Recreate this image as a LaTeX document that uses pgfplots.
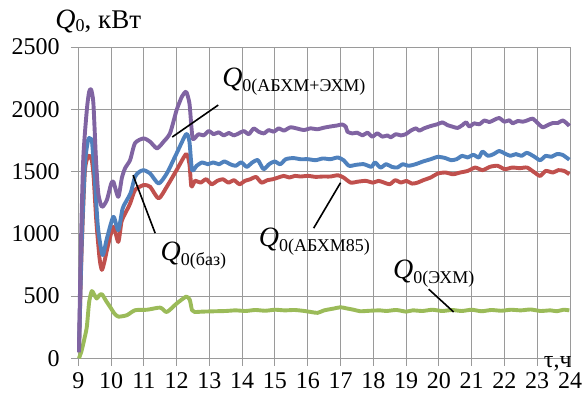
\documentclass[border=0pt]{standalone}
\usepackage{pgfplots}
\pgfplotsset{compat=1.18}
\usepackage{fontspec}
\setmainfont{Liberation Serif}
\definecolor{cpur}{HTML}{8064A2}
\definecolor{cblu}{HTML}{4F81BD}
\definecolor{cred}{HTML}{C0504D}
\definecolor{cgrn}{HTML}{9BBB59}
\definecolor{cgrid}{HTML}{9A9A9A}
\newcommand{\lab}[1]{{\fontsize{14}{16}\selectfont\textit{Q}}\raisebox{-2.5pt}{\fontsize{9}{10}\selectfont #1}}
\begin{document}
\begin{tikzpicture}
\path[use as bounding box] (-39.15pt,-19.85pt) rectangle (252.35pt,179.15pt);
\begin{axis}[
  at={(0,0)}, anchor=south west,
  width=245.85pt, height=155.65pt, scale only axis,
  xmin=9, xmax=24, ymin=0, ymax=2500,
  xtick={9,10,...,24}, ytick={0,500,...,2500},
  grid=major,
  grid style={cgrid, line width=0.5pt},
  axis line style={cgrid, line width=0.5pt},
  tick style={cgrid, line width=0.5pt},
  tick align=outside,
  major tick length=3.75pt,
  xtick pos=bottom, ytick pos=left,
  tick label style={font=\fontsize{12}{14}\selectfont, /pgf/number format/assume math mode=true},
  /pgf/number format/1000 sep={},
  yticklabel style={xshift=-2pt},
  clip=false,
  every axis plot/.append style={line width=1.95pt, smooth, tension=0.4, line join=round, no markers},
]
\addplot[cgrn] coordinates {
(9.02,0)(9.1,60)(9.18,150)(9.26,252)(9.33,450)(9.41,540)(9.48,515)(9.56,480)(9.64,505)(9.72,515)(9.85,460)(9.97,413)(10.1,360)(10.22,335)(10.48,346)(10.73,386)(11.1,390)(11.5,407)(11.7,372)(12.0,440)(12.29,495)(12.4,470)(12.47,386)(12.55,372)
(12.8,375)(13.2,378)(13.5,380)(13.8,385)(14.1,380)(14.4,388)(14.7,382)(15.0,390)(15.3,385)(15.6,388)(15.9,380)(16.1,372)(16.3,365)(16.5,385)(16.8,400)(17.0,410)(17.2,400)(17.4,390)(17.6,378)(17.9,382)(18.2,385)(18.4,380)(18.7,388)(19.0,375)(19.2,385)(19.5,380)(19.8,390)(20.1,380)(20.4,388)(20.7,380)(21.0,390)(21.3,378)(21.6,388)(21.9,382)(22.2,390)(22.5,385)(22.8,392)(23.1,380)(23.4,385)(23.6,378)(23.8,390)(23.98,385)
};
\addplot[cred] coordinates {
(9.02,50)(9.1,850)(9.2,1500)(9.31,1625)(9.41,1592)(9.47,1450)(9.55,1100)(9.65,800)(9.72,710)(9.8,780)(9.9,900)(10.07,1056)(10.22,935)(10.32,1100)(10.43,1163)(10.58,1243)(10.73,1351)(10.99,1391)(11.19,1378)(11.45,1284)(11.7,1378)(12.0,1512)(12.29,1640)(12.39,1560)(12.45,1380)
(12.56,1425)(12.73,1411)(12.9,1438)(13.07,1398)(13.24,1425)(13.41,1438)(13.58,1411)(13.75,1430)(13.92,1398)(14.08,1425)(14.25,1438)(14.42,1457)(14.59,1411)(14.76,1430)(14.93,1438)(15.1,1452)(15.27,1465)(15.44,1452)(15.61,1465)(15.78,1460)(16.01,1465)(16.24,1457)(16.46,1460)(16.69,1460)(16.92,1470)(17.09,1452)(17.31,1411)(17.54,1419)(17.77,1425)(17.99,1411)(18.16,1425)(18.33,1411)(18.5,1398)(18.67,1430)(18.84,1411)(19.01,1425)(19.18,1403)(19.35,1411)(19.52,1430)(19.75,1452)(19.97,1484)(20.2,1492)(20.43,1478)(20.65,1492)(20.88,1505)(21.11,1532)(21.33,1511)(21.56,1538)(21.79,1546)(22.01,1519)(22.24,1532)(22.47,1527)(22.69,1532)(22.92,1492)(23.09,1465)(23.26,1505)(23.48,1492)(23.64,1511)(23.82,1505)(23.98,1478)
};
\addplot[cblu] coordinates {
(9.02,50)(9.1,900)(9.2,1550)(9.3,1755)(9.36,1765)(9.42,1735)(9.5,1450)(9.6,1050)(9.74,830)(9.87,960)(10.07,1136)(10.22,1029)(10.35,1200)(10.48,1270)(10.6,1330)(10.73,1458)(10.85,1495)(10.99,1511)(11.19,1485)(11.45,1404)(11.7,1485)(12.0,1646)(12.29,1800)(12.39,1740)(12.47,1512)
(12.61,1546)(12.78,1573)(12.95,1559)(13.12,1573)(13.29,1559)(13.46,1581)(13.63,1559)(13.8,1546)(13.97,1573)(14.14,1538)(14.31,1573)(14.48,1591)(14.65,1519)(14.82,1559)(14.99,1581)(15.16,1559)(15.33,1599)(15.56,1608)(15.78,1599)(16.01,1599)(16.24,1591)(16.46,1605)(16.69,1599)(16.92,1613)(17.09,1591)(17.26,1546)(17.48,1554)(17.71,1559)(17.94,1538)(18.05,1573)(18.22,1532)(18.39,1559)(18.56,1538)(18.73,1532)(18.9,1559)(19.07,1546)(19.29,1559)(19.52,1581)(19.75,1599)(19.97,1618)(20.2,1608)(20.37,1591)(20.54,1599)(20.71,1626)(20.88,1613)(21.05,1634)(21.22,1613)(21.33,1660)(21.5,1626)(21.67,1640)(21.84,1665)(22.01,1645)(22.18,1626)(22.35,1640)(22.52,1626)(22.69,1650)(22.92,1618)(23.09,1591)(23.26,1626)(23.43,1618)(23.6,1640)(23.77,1634)(23.98,1595)
};
\addplot[cpur] coordinates {
(9.02,50)(9.07,788)(9.15,1594)(9.26,1994)(9.33,2140)(9.39,2160)(9.46,2048)(9.54,1594)(9.61,1324)(9.72,1217)(9.87,1270)(10.0,1400)(10.07,1418)(10.22,1297)(10.33,1450)(10.43,1528)(10.58,1592)(10.73,1728)(10.99,1766)(11.19,1739)(11.4,1686)(11.6,1739)(11.8,1809)(12.0,1994)(12.16,2101)(12.29,2140)(12.39,2048)(12.45,1860)(12.5,1760)
(12.67,1800)(12.82,1790)(12.98,1825)(13.13,1800)(13.28,1815)(13.44,1790)(13.59,1810)(13.74,1790)(13.89,1806)(14.05,1825)(14.2,1800)(14.35,1845)(14.5,1820)(14.66,1806)(14.81,1833)(14.96,1820)(15.12,1847)(15.27,1828)(15.47,1855)(15.68,1845)(15.88,1833)(16.09,1847)(16.29,1839)(16.49,1852)(16.7,1862)(16.9,1870)(17.05,1878)(17.16,1860)(17.21,1820)(17.36,1806)(17.51,1812)(17.67,1790)(17.82,1812)(17.97,1780)(18.12,1806)(18.28,1780)(18.43,1790)(18.53,1775)(18.69,1800)(18.84,1790)(18.99,1800)(19.14,1828)(19.3,1847)(19.4,1828)(19.55,1847)(19.76,1866)(19.96,1880)(20.11,1895)(20.26,1873)(20.42,1860)(20.57,1850)(20.72,1873)(20.83,1895)(20.93,1862)(21.08,1887)(21.23,1879)(21.39,1910)(21.54,1897)(21.69,1915)(21.84,1930)(22.0,1900)(22.15,1912)(22.25,1887)(22.41,1906)(22.56,1900)(22.71,1912)(22.86,1925)(23.02,1887)(23.17,1855)(23.32,1873)(23.48,1890)(23.63,1890)(23.78,1910)(23.93,1880)(23.98,1866)
};
% leader lines
\draw[black, line width=0.8pt] (axis cs:11.865,1777) -- (axis cs:13.27,2034);
\draw[black, line width=0.8pt] (axis cs:10.67,1471) -- (axis cs:11.345,1005);
\draw[black, line width=0.8pt] (axis cs:16.18,1045) -- (axis cs:17.0,1410);
\draw[black, line width=0.8pt] (axis cs:19.69,555) -- (axis cs:20.45,372);
% labels
\node[anchor=base west, inner sep=0pt] at (axis cs:13.38,2181) {\lab{0(АБХМ+ЭХМ)}};
\node[anchor=base west, inner sep=0pt] at (axis cs:11.5,788) {\lab{0(баз)}};
\node[anchor=base west, inner sep=0pt] at (axis cs:14.495,895) {\lab{0(АБХМ85)}};
\node[anchor=base west, inner sep=0pt] at (axis cs:18.59,637) {\lab{0(ЭХМ)}};
\node[anchor=base west, inner sep=0pt] at (axis cs:8.29,2651) {{\fontsize{14}{16}\selectfont\textit{Q}}\raisebox{-1.7pt}{\fontsize{9}{10}\selectfont 0}{\fontsize{13.5}{16}\selectfont, кВт}};
\node[anchor=base east, inner sep=0pt] at (axis cs:24.06,-72) {\fontsize{12}{14}\selectfont τ,ч};
\end{axis}
\end{tikzpicture}
\end{document}
